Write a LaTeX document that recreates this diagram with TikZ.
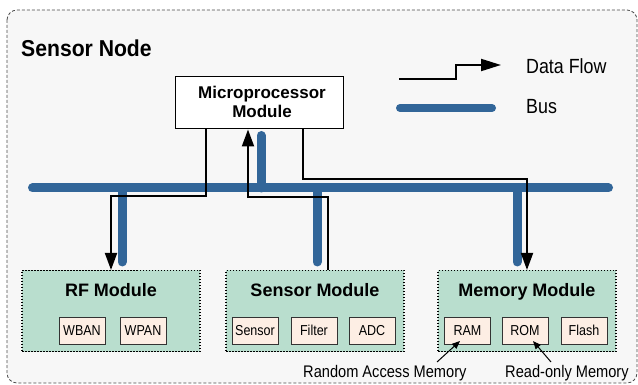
\documentclass[tikz,border=0pt]{standalone}
\usepackage{fontspec}
\setmainfont{Liberation Sans}
\newfontfamily\nrw[FakeStretch=0.87]{Liberation Sans}
\newfontfamily\ttl[FakeStretch=0.92]{Liberation Sans}
\usetikzlibrary{arrows.meta,calc}
\pgfdeclarelayer{bg}
\pgfsetlayers{bg,main}
\definecolor{busblue}{RGB}{50,102,153}
\definecolor{modgreen}{RGB}{185,222,206}
\definecolor{peach}{RGB}{253,238,228}
\definecolor{bgc}{RGB}{247,247,247}
\tikzset{
  module/.style={draw=black, line width=1.1pt, dash pattern=on 1.5pt off 1.5pt, fill=modgreen, minimum width=178pt, minimum height=81pt, inner sep=0pt},
  modtitle/.style={font=\bfseries\fontsize{18}{20}\selectfont, inner sep=0pt, anchor=base},
  subbox/.style={draw=black!80, line width=0.8pt, fill=peach, minimum width=46pt, minimum height=27pt, inner sep=0pt, font=\nrw\fontsize{14.4}{16}\selectfont},
  bus/.style={draw=busblue, line width=9pt, line cap=round},
  flow/.style={draw=black, line width=2pt, -{Triangle[length=17pt,width=12pt]}},
  flowplain/.style={draw=black, line width=2pt},
  ann/.style={font=\nrw\fontsize{16.8}{18}\selectfont, inner sep=0pt, anchor=base west},
  annarrow/.style={draw=black, line width=1pt, -{Triangle[length=8pt,width=6.5pt]}},
  legtext/.style={font=\nrw\fontsize{20.5}{22}\selectfont, inner sep=0pt, anchor=base west}
}
\begin{document}
\begin{tikzpicture}[x=1pt,y=-1pt]
\useasboundingbox (0,0) rectangle (638,385);
% outer frame
\begin{pgfonlayer}{bg}
\draw[dashed, dash pattern=on 3pt off 2pt, draw=black!70, line width=0.8pt, fill=bgc, rounded corners=10pt] (7,10) rectangle (637,383);
\end{pgfonlayer}
\node[inner sep=0pt, anchor=base west, font=\ttl\bfseries\fontsize{23}{25}\selectfont] (title) at (21,57) {Sensor Node};

% microprocessor
\node[draw=black, line width=1pt, fill=white, minimum width=168pt, minimum height=52pt, inner sep=0pt] (micro) at (259,103) {};
\node[inner sep=0pt, anchor=base, font=\bfseries\fontsize{17}{19}\selectfont] (mt1) at (262,99) {Microprocessor};
\node[inner sep=0pt, anchor=base, font=\bfseries\fontsize{17}{19}\selectfont] (mt2) at (262,118) {Module};

% modules
\node[module] (rf) at (111,311) {};
\node[module] (sens) at (315,311) {};
\node[module] (mem) at (527,311) {};
\node[modtitle] (rft) at (111,297) {RF Module};
\node[modtitle] (senst) at (315,297) {Sensor Module};
\node[modtitle] (memt) at (527,297) {Memory Module};

\node[subbox] (wban) at (82,330.5) {WBAN};
\node[subbox] (wpan) at (143,330.5) {WPAN};
\node[subbox] (ssub) at (255,330.5) {Sensor};
\node[subbox] (filt) at (314,330.5) {Filter};
\node[subbox] (adc) at (372,330.5) {ADC};
\node[subbox] (ram) at (467.5,330.5) {RAM};
\node[subbox] (rom) at (525,330.5) {ROM};
\node[subbox] (flash) at (584,330.5) {Flash};

% bus
\coordinate (b1) at (32.5,188);
\coordinate (b2) at (608.5,188);
\coordinate (sm) at (261,0);
\coordinate (sr) at (122,0);
\coordinate (ss) at (317,0);
\coordinate (sme) at (517,0);
\begin{pgfonlayer}{bg}
\draw[bus] (b1) -- (b2);
\draw[bus] ($(micro.south -| sm)+(0,6)$) -- (b1 -| sm);
\draw[bus] (b1 -| sr) -- ($(rf.north -| sr)+(0,-8)$);
\draw[bus] (b1 -| ss) -- ($(sens.north -| ss)+(0,-8)$);
\draw[bus] (b1 -| sme) -- ($(mem.north -| sme)+(0,-8)$);
\end{pgfonlayer}

% data flows
\coordinate (fx1) at (206,196);
\coordinate (fx2) at (248,197);
\coordinate (fx3) at (303,179);
\coordinate (fxr) at (111,0);
\coordinate (fxs) at (328,0);
\coordinate (fxm) at (527,0);
\draw[flow] (micro.south -| fx1) |- (fx1 -| fxr) -- (rf.north -| fxr);
\draw[flow] (sens.north -| fxs) |- (fx2) -- (micro.south -| fx2);
\draw[flow] (micro.south -| fx3) |- (fx3 -| fxm) -- (mem.north -| fxm);

% legend
\coordinate (l1) at (399,79);
\coordinate (l2) at (456,79);
\coordinate (l3) at (501,65);
\draw[flowplain, -{Triangle[length=20pt,width=12pt]}] (l1) -- (l2) |- (l3);
\node[legtext] (dft) at (526,74) {Data Flow};
\coordinate (lb1) at (400,108);
\coordinate (lb2) at (492,108);
\draw[bus, line width=8pt] (lb1) -- (lb2);
\node[legtext] (bust) at (526,114) {Bus};

% annotations
\node[ann] (ramt) at (303,377) {Random Access Memory};
\node[ann] (romt) at (505,377) {Read-only Memory};
\coordinate (a1) at (437,362);
\coordinate (a2) at (460,341);
\coordinate (a3) at (551,362);
\coordinate (a4) at (533,341);
\draw[annarrow] (a1) -- (a2);
\draw[annarrow] (a3) -- (a4);
\end{tikzpicture}
\end{document}
